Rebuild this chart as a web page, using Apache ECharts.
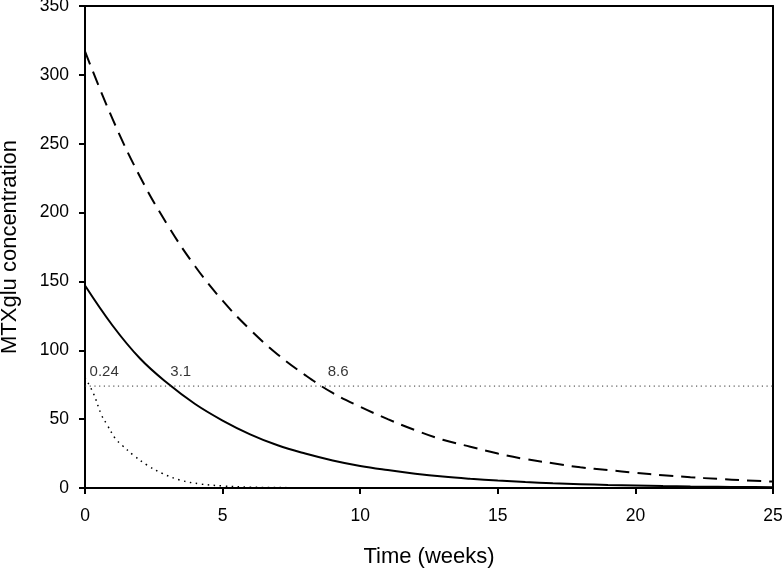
<!DOCTYPE html>
<html>
<head>
<meta charset="utf-8">
<script src="https://cdn.jsdelivr.net/npm/echarts@6/dist/echarts.min.js"></script>
<style>html,body{margin:0;padding:0;background:#fff}#c{width:784px;height:571px}</style>
</head>
<body>
<div id="c"></div>
<script>
// Time (weeks)
const weeks = [0,1,2,3,4,5,6,7,8,9,10,11,12,13,14,15,16,17,18,19,20,21,22,23,24,25];
// Dashed curve
const dashedVals = [317,268,226,191,161,136,115,97,82,69,59,50,42,35,30,25,21,18,15,13,11,9.3,7.8,6.6,5.5,4.7];
// Solid curve
const solidVals = [147,118,94,76,61,49,39,31,25,20,16,13,10.4,8.3,6.7,5.4,4.3,3.4,2.8,2.2,1.8,1.4,1.1,0.9,0.7,0.6];
// Dotted curve (fast decay)
const dottedWeeks = [0,0.3,0.6,0.8,1.1,1.35,1.75,2.25,2.8,3.45,4.2,5,6,8,10,15,20,25];
const dottedVals = [80,69,53,46,36,31,24,16.7,10.7,5.8,2.9,1.5,0.6,0.2,0.1,0,0,0];
// Threshold line
const thresholdValue = 74;
// Crossing labels
const crossLabels = ['0.24','3.1','8.6'];
const crossWeeks = [0.24,3.1,8.6];

const xTicks = [0,5,10,15,20,25];
const yTicks = [0,50,100,150,200,250,300,350];

const font = 'Liberation Sans, Arial, sans-serif';
const labelShift = [-2, 0, 6];
const chart = echarts.init(document.getElementById('c'), null, {renderer:'canvas'});
const zip = (xs, ys) => xs.map((x,i)=>[x, ys[i]]);

chart.setOption({
  animation:false,
  backgroundColor:'#fff',
  grid:{left:85,right:11,top:6,bottom:83,containLabel:false,outerBoundsMode:'none'},
  xAxis:[{
    type:'value',min:xTicks[0],max:xTicks[xTicks.length-1],interval:5,
    name:'Time (weeks)',nameLocation:'middle',nameGap:58,
    nameTextStyle:{fontFamily:font,fontSize:22,color:'#000'},
    axisLine:{show:true,onZero:false,lineStyle:{color:'#000',width:2}},
    axisTick:{show:true,inside:false,length:6,lineStyle:{color:'#000',width:2}},
    axisLabel:{fontFamily:font,fontSize:17.5,color:'#000',margin:19},
    splitLine:{show:false}
  },{
    type:'value',min:0,max:25,position:'top',
    axisLine:{show:true,onZero:false,lineStyle:{color:'#000',width:2}},
    axisTick:{show:false},axisLabel:{show:false},splitLine:{show:false}
  }],
  yAxis:[{
    type:'value',min:yTicks[0],max:yTicks[yTicks.length-1],interval:50,
    name:'MTXglu concentration',nameLocation:'middle',nameGap:64,
    nameTextStyle:{fontFamily:font,fontSize:22,color:'#000'},
    axisLine:{show:true,onZero:false,lineStyle:{color:'#000',width:2}},
    axisTick:{show:true,inside:false,length:6,lineStyle:{color:'#000',width:2}},
    axisLabel:{fontFamily:font,fontSize:17.5,color:'#000',margin:16,
      formatter:v=>String(v), rich:{}},
    splitLine:{show:false}
  },{
    type:'value',min:0,max:350,position:'right',
    axisLine:{show:true,onZero:false,lineStyle:{color:'#000',width:2}},
    axisTick:{show:false},axisLabel:{show:false},splitLine:{show:false}
  }],
  series:[
    {type:'line',smooth:0.4,showSymbol:false,data:zip(weeks,dashedVals),
     lineStyle:{color:'#000',width:2,type:[14,8]}},
    {type:'line',smooth:0.4,showSymbol:false,data:zip(weeks,solidVals),
     lineStyle:{color:'#000',width:2}},
    {type:'line',smooth:0.4,showSymbol:false,data:zip(dottedWeeks,dottedVals),
     lineStyle:{color:'#000',width:1.5,type:[1.5,4.5]}},
    {type:'line',showSymbol:false,data:[[0,thresholdValue],[25,thresholdValue]],
     lineStyle:{color:'#333',width:1,type:[1.2,3.5]}},
    {type:'scatter',symbolSize:0,
     data:crossWeeks.map((w,i)=>({value:[w,thresholdValue],name:crossLabels[i],
       label:{offset:[labelShift[i],0]}})),
     label:{show:true,formatter:p=>p.name,position:[0,-7],align:'left',verticalAlign:'bottom',
       fontFamily:font,fontSize:15,color:'#000'}}
  ]
});
</script>
</body>
</html>
